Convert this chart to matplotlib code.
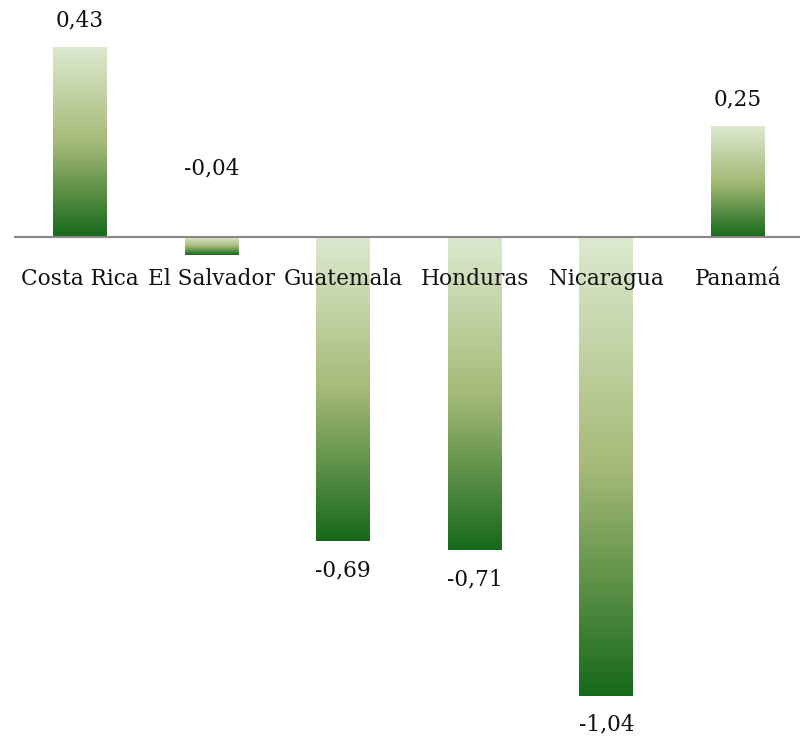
import numpy as np
import matplotlib
matplotlib.use("Agg")
import matplotlib.pyplot as plt
from matplotlib.colors import LinearSegmentedColormap

countries = ["Costa Rica", "El Salvador", "Guatemala", "Honduras", "Nicaragua", "Panamá"]
values = [0.43, -0.04, -0.69, -0.71, -1.04, 0.25]
value_labels = ["0,43", "-0,04", "-0,69", "-0,71", "-1,04", "0,25"]

FONT = "DejaVu Serif"
FS = 15.6

fig = plt.figure(figsize=(8.0, 7.38), dpi=100)
ax = fig.add_axes([14.2 / 800, 0, 789.6 / 800, 1])
ax.set_xlim(-0.5, 5.5)
ymin, ymax = -1.136, 0.537
ax.set_ylim(ymin, ymax)
ax.axis("off")

# vertical gradient: light at the top of each bar, dark green at the bottom
cmap = LinearSegmentedColormap.from_list(
    "grn", [(0.0, "#17691a"), (0.5, "#a6ba78"), (1.0, "#dde9cf")])
grad = np.linspace(0, 1, 256).reshape(-1, 1)

width = 0.41
x = np.arange(len(countries))
bars = ax.bar(x, values, width=width, color="none", edgecolor="none")
for b in bars:
    x0 = b.get_x()
    y0, y1 = sorted([b.get_y(), b.get_y() + b.get_height()])
    ax.imshow(grad, cmap=cmap, origin="lower", aspect="auto",
              extent=[x0, x0 + b.get_width(), y0, y1], zorder=1,
              interpolation="bilinear")

ax.set_xlim(-0.5, 5.5)
ax.set_ylim(ymin, ymax)

# zero baseline
ax.axhline(0, color="#878787", lw=1.5, zorder=2)

# category names just below the baseline
for xi, name in zip(x, countries):
    ax.text(xi, -0.095, name, ha="center", va="center", fontsize=FS,
            family=FONT, color="#111111", zorder=3)

# value labels outside the bar ends
for xi, v, lab in zip(x, values, value_labels):
    if v >= 0:
        y = v + 0.061
    elif v > -0.1:
        y = 0.156
    else:
        y = v - 0.066
    ax.text(xi, y, lab, ha="center", va="center", fontsize=FS,
            family=FONT, color="#111111", zorder=3)

fig.savefig("out.png", dpi=100)
